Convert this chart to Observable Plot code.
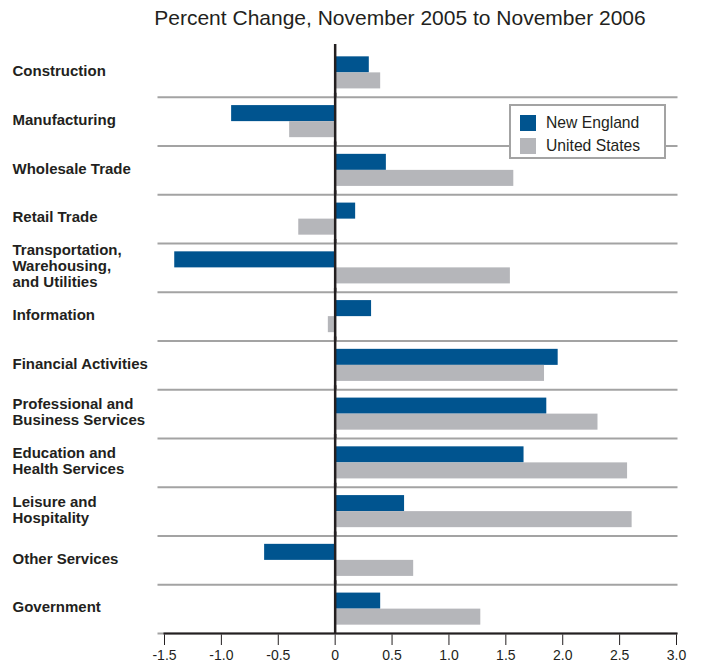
<!DOCTYPE html>
<html>
<head>
<meta charset="utf-8">
<script src="https://cdn.jsdelivr.net/npm/d3@7"></script>
<script src="https://cdn.jsdelivr.net/npm/@observablehq/plot@0.6"></script>
<style>
  body { margin: 0; background: #fff; }
  #wrap { position: relative; width: 702px; height: 665px; font-family: "Liberation Sans", Arial, sans-serif; color: #231f20; }
  #title { position: absolute; left: 0; width: 800px; top: 6px; text-align: center; font-size: 21px; white-space: nowrap; }
  #chart { position: absolute; left: 0; top: 40px; }
  #legend { position: absolute; left: 509px; top: 104px; width: 153px; height: 51px; border: 2px solid #a3a3a3; background: #fff; font-size: 15.7px; }
  .li { position: absolute; left: 9px; display: flex; align-items: center; }
  .sw { width: 16px; height: 16px; margin-right: 10px; }
</style>
</head>
<body>
<div id="wrap">
  <div id="title">Percent Change, November 2005 to November 2006</div>
  <div id="chart"></div>
  <div id="legend"></div>
</div>
<script>
const categories = [
  "Construction",
  "Manufacturing",
  "Wholesale Trade",
  "Retail Trade",
  "Transportation,\nWarehousing,\nand Utilities",
  "Information",
  "Financial Activities",
  "Professional and\nBusiness Services",
  "Education and\nHealth Services",
  "Leisure and\nHospitality",
  "Other Services",
  "Government"
];
const series = ["New England", "United States"];
const newEngland = [0.30, -0.91, 0.45, 0.18, -1.41, 0.32, 1.96, 1.86, 1.66, 0.61, -0.62, 0.40];
const unitedStates = [0.40, -0.40, 1.57, -0.32, 1.54, -0.06, 1.84, 2.31, 2.57, 2.61, 0.69, 1.28];
const colors = ["#00548f", "#b5b6ba"];
const xTicks = [-1.5, -1.0, -0.5, 0, 0.5, 1.0, 1.5, 2.0, 2.5, 3.0];

const data = [];
categories.forEach((c, i) => {
  data.push({category: c, series: series[0], value: newEngland[i]});
  data.push({category: c, series: series[1], value: unitedStates[i]});
});

const chart = Plot.plot({
  width: 702,
  height: 625,
  marginLeft: 164,
  marginRight: 26,
  marginTop: 8,
  marginBottom: 32,
  style: {fontFamily: "'Liberation Sans', Arial, sans-serif", fontSize: "14px", color: "#231f20", background: "transparent"},
  x: {domain: [-1.5, 3], ticks: xTicks, tickFormat: d => d === 0 ? "0" : d.toFixed(1), tickSize: 12, tickPadding: 5, label: null},
  y: {domain: series, axis: null, paddingInner: 0, paddingOuter: 0.52, round: false},
  fy: {domain: categories, axis: null, paddingInner: 0, paddingOuter: 0, round: false},
  color: {domain: series, range: colors},
  marks: [
    Plot.frame({anchor: "bottom", stroke: "#a3a3a3", strokeWidth: 2, insetLeft: -6}),
    Plot.barX(data, {x: "value", y: "series", fy: "category", fill: "series"}),
    Plot.ruleX([0], {stroke: "#231f20", strokeWidth: 2.5, insetTop: -4}),
    Plot.frame({anchor: "bottom", stroke: "#231f20", strokeWidth: 2, facetAnchor: "bottom"}),
    Plot.text(categories, {fy: d => d, text: d => d, frameAnchor: "left", textAnchor: "start", dx: -152, dy: -2, fontWeight: "bold", fontSize: 15, lineHeight: 1.07, fill: "#231f20"})
  ]
});
document.getElementById("chart").appendChild(chart);

const legend = document.getElementById("legend");
series.forEach((s, i) => {
  const row = document.createElement("div");
  row.className = "li";
  row.style.top = (i === 0 ? 8 : 31) + "px";
  row.innerHTML = `<div class="sw" style="background:${colors[i]}"></div><span>${s}</span>`;
  legend.appendChild(row);
});
</script>
</body>
</html>
